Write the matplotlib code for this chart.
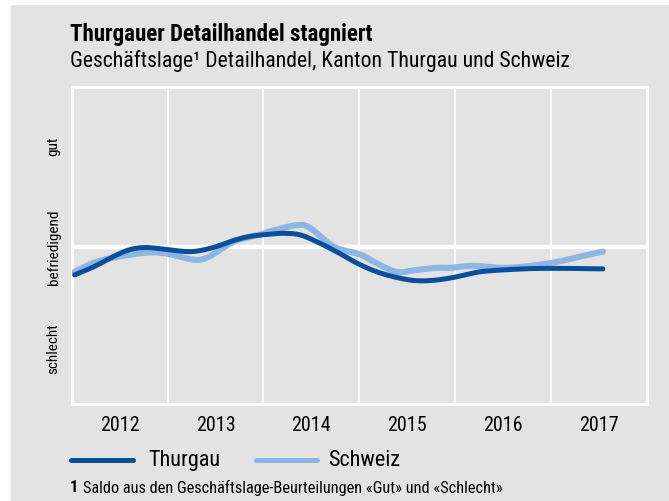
import numpy as np
import matplotlib
matplotlib.use("Agg")
import matplotlib.pyplot as plt
from matplotlib.patches import Rectangle
from matplotlib.lines import Line2D
import logging
logging.getLogger("matplotlib.font_manager").setLevel(logging.ERROR)

# ---- data ----
thurgau_x = [2012.03, 2012.23, 2012.43, 2012.61, 2012.78, 2012.99, 2013.20, 2013.34, 2013.51,
             2013.69, 2013.86, 2014.05, 2014.21, 2014.38, 2014.55, 2014.76, 2015.01, 2015.25,
             2015.53, 2015.74, 2015.95, 2016.10, 2016.29, 2016.71, 2017.06, 2017.54]
thurgau_y = [-0.28, -0.20, -0.10, -0.03, -0.01, -0.03, -0.05, -0.04, 0.00,
             0.06, 0.10, 0.12, 0.13, 0.115, 0.05, -0.05, -0.18, -0.27,
             -0.33, -0.335, -0.31, -0.28, -0.245, -0.22, -0.215, -0.22]

schweiz_x = [2012.03, 2012.23, 2012.43, 2012.78, 2012.99, 2013.27, 2013.41, 2013.55, 2013.72,
             2013.96, 2014.07, 2014.35, 2014.49, 2014.73, 2015.01, 2015.18, 2015.39, 2015.60,
             2015.81, 2015.95, 2016.19, 2016.54, 2016.95, 2017.23, 2017.54]
schweiz_y = [-0.25, -0.16, -0.11, -0.06, -0.07, -0.13, -0.11, -0.03, 0.06,
             0.115, 0.15, 0.21, 0.18, 0.0, -0.08, -0.165, -0.25, -0.23,
             -0.21, -0.21, -0.19, -0.21, -0.17, -0.115, -0.05]

year_labels = ["2012", "2013", "2014", "2015", "2016", "2017"]
level_labels = ["schlecht", "befriedigend", "gut"]
level_values = [-1, 0, 1]

title = "Thurgauer Detailhandel stagniert"
subtitle = "Geschäftslage¹ Detailhandel, Kanton Thurgau und Schweiz"
footnote_num = "1"
footnote = "Saldo aus den Geschäftslage-Beurteilungen «Gut» und «Schlecht»"

DARK = "#0b4f9c"
LIGHT = "#8db6e3"
BG = "#e3e3e3"
FONT = ["Roboto Condensed", "Archivo Narrow", "DejaVu Sans"]
plt.rcParams["font.family"] = FONT


def smooth(x, y, n=20):
    """Catmull-Rom curve through the given points (rendering only)."""
    p = np.column_stack([x, y]).astype(float)
    p = np.vstack([p[0], p, p[-1]])
    out = []
    t = np.linspace(0, 1, n, endpoint=False)[:, None]
    for i in range(1, len(p) - 2):
        p0, p1, p2, p3 = p[i - 1], p[i], p[i + 1], p[i + 2]
        seg = 0.5 * ((2 * p1) + (-p0 + p2) * t + (2 * p0 - 5 * p1 + 4 * p2 - p3) * t ** 2
                     + (-p0 + 3 * p1 - 3 * p2 + p3) * t ** 3)
        out.append(seg)
    out.append(p[-2][None, :])
    out = np.vstack(out)
    return out[:, 0], out[:, 1]


fig = plt.figure(figsize=(6.69, 5.02), dpi=100)
fig.patch.set_facecolor("white")
fig.add_artist(Rectangle((11 / 669, 0), 1 - 11 / 669, 1 - 6 / 502, transform=fig.transFigure,
                         facecolor=BG, edgecolor="none", zorder=0))

ax = fig.add_axes([71.7 / 669, (502 - 405) / 502, (647 - 71.7) / 669, (405 - 88) / 502])
ax.set_facecolor(BG)
ax.set_xlim(2012, 2018)
ax.set_ylim(-1.55, 1.57)
for s in ax.spines.values():
    s.set_color("white")
    s.set_linewidth(2)

for yr in range(2013, 2018):
    ax.axvline(yr, color="white", lw=1.3, zorder=1)
ax.axhline(0, color="white", lw=3.2, zorder=1)

sx, sy = smooth(schweiz_x, schweiz_y)
tx, ty = smooth(thurgau_x, thurgau_y)
ax.plot(sx, sy, color=LIGHT, lw=4.4, solid_capstyle="round", zorder=3)
ax.plot(tx, ty, color=DARK, lw=3.6, solid_capstyle="round", zorder=4)

ax.set_xticks([2012.5 + i for i in range(len(year_labels))])
ax.set_xticklabels(year_labels, fontsize=14.5)
ax.set_yticks(level_values)
ax.set_yticklabels(level_labels, rotation=90, va="center", fontsize=11)
ax.tick_params(axis="x", length=0, pad=8)
ax.tick_params(axis="y", length=0, pad=8)

fig.text(70 / 669, 1 - 41 / 502, title, fontsize=16.5, fontweight="bold", va="baseline", ha="left")
fig.text(70 / 669, 1 - 67 / 502, subtitle, fontsize=15.7, va="baseline", ha="left")

# legend
ly = 1 - 461 / 502
fig.add_artist(Line2D([71 / 669, 133 / 669], [ly, ly], color=DARK, lw=3.6,
                      solid_capstyle="round", transform=fig.transFigure))
fig.text(148 / 669, ly, "Thurgau", fontsize=16, va="center", ha="left")
fig.add_artist(Line2D([256 / 669, 317 / 669], [ly, ly], color=LIGHT, lw=3.6,
                      solid_capstyle="round", transform=fig.transFigure))
fig.text(328 / 669, ly, "Schweiz", fontsize=16, va="center", ha="left")

fy = 1 - 488 / 502
fig.text(70 / 669, fy, footnote_num, fontsize=11.8, fontweight="bold", va="center", ha="left")
fig.text(83 / 669, fy, footnote, fontsize=11.8, va="center", ha="left")

fig.savefig("out.png", dpi=100, facecolor="white")
